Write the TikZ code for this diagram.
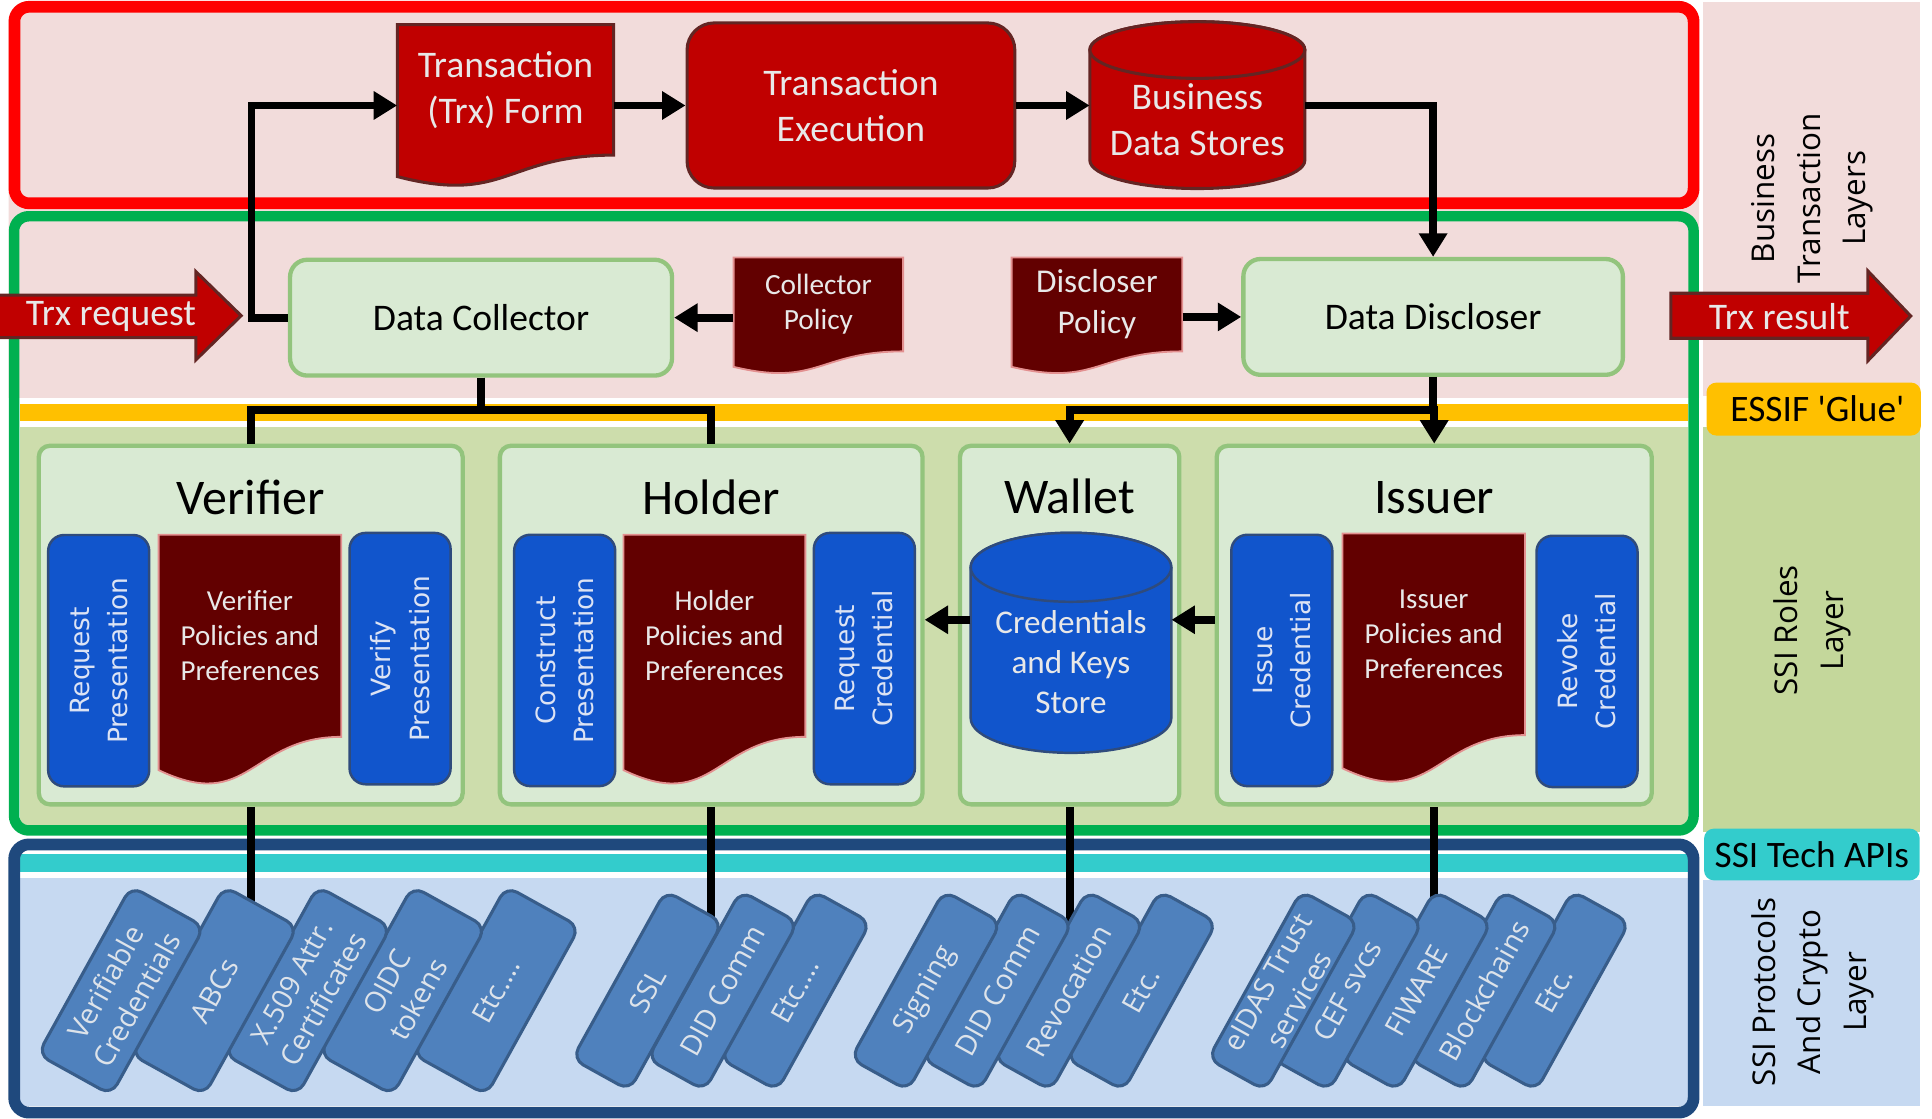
\documentclass[tikz,border=0pt]{standalone}
\usepackage{fontspec}
\setmainfont{Carlito}
\newfontfamily\osans{Open Sans}
\newfontfamily\dvsans{DejaVu Sans}
\usetikzlibrary{arrows.meta,calc}
\pgfdeclarelayer{bg}
\pgfdeclarelayer{lines}
\pgfdeclarelayer{mid}
\pgfsetlayers{bg,lines,mid,main}

\definecolor{pinkbg}{HTML}{F2DCDB}
\definecolor{redframe}{HTML}{FF0000}
\definecolor{greenframe}{HTML}{00B050}
\definecolor{navyframe}{HTML}{1F497D}
\definecolor{yellowband}{HTML}{FFC000}
\definecolor{olivein}{HTML}{CDDDAC}
\definecolor{olivestrip}{HTML}{C4D79B}
\definecolor{tealband}{HTML}{33CCCC}
\definecolor{paleblue}{HTML}{C6D9F1}
\definecolor{rolefill}{HTML}{D9EAD3}
\definecolor{roleedge}{HTML}{93C47D}
\definecolor{trxred}{HTML}{C00000}
\definecolor{trxedge}{HTML}{632523}
\definecolor{maroonfill}{HTML}{620000}
\definecolor{maroonedge}{HTML}{E39090}
\definecolor{boxblue}{HTML}{1155CC}
\definecolor{boxedge}{HTML}{2F4B7C}
\definecolor{cardfill}{HTML}{4F81BD}
\definecolor{cardedge}{HTML}{385D8A}
\definecolor{cardtext}{HTML}{DDE3EA}
\definecolor{lighttext}{HTML}{E8E8E8}
\definecolor{bluetext}{HTML}{DCE3F4}

\tikzset{
  conn/.style={line width=6.3pt, black},
  arr/.style={conn, -{Triangle[length=19pt,width=22pt]}},
  redshape/.style={fill=trxred, draw=trxedge, line width=2.5pt},
  maroonshape/.style={fill=maroonfill, draw=maroonedge, line width=1.5pt},
  blueshape/.style={fill=boxblue, draw=boxedge, line width=2pt},
  redtext/.style={text=lighttext, align=center, inner sep=0pt, font=\fontsize{30.5}{37}\selectfont},
  doctext/.style={text=lighttext, align=center, inner sep=0pt},
  greenbox/.style={rectangle, rounded corners=14pt, fill=rolefill, draw=roleedge, line width=3.5pt, font=\fontsize{30.5}{35}\selectfont},
  rolebox/.style={rectangle, rounded corners=9pt, fill=rolefill, draw=roleedge, line width=3.5pt, minimum height=291pt},
  roletitle/.style={inner sep=0pt, font=\fontsize{40.5}{42}\selectfont},
  bluebox/.style={rectangle, rounded corners=13pt, fill=boxblue, draw=boxedge, line width=2pt, rotate=90, minimum width=204pt, minimum height=82pt, text=bluetext, align=center, inner sep=0pt, font=\dvsans\fontsize{21.5}{31}\selectfont},
  protocard/.style={rectangle, rounded corners=10pt, fill=cardfill, draw=cardedge, line width=2.5pt, rotate=61, minimum width=156pt, text=cardtext, align=center, inner sep=0pt, font=\osans\fontsize{23}{29}\selectfont},
  widecard/.style={minimum height=68pt},
  narrowcard/.style={minimum height=53pt},
  sidelabel/.style={rotate=90, align=center, inner sep=0pt, font=\osans\fontsize{25.5}{37}\selectfont},
  sidetag/.style={rectangle, rounded corners=8pt, inner sep=0pt, font=\fontsize{30.3}{32}\selectfont}
}

\newcommand\docpath[5]{%
  \filldraw[#5] (#1,#2) -- ({#1+#3},#2) -- ({#1+#3},{#2+0.802*#4})
    .. controls ({#1+0.5*#3},{#2+0.802*#4}) and ({#1+0.5*#3},{#2+1.107*#4}) .. (#1,{#2+0.934*#4}) -- cycle;}
\newcommand\cylpath[6]{%
  \filldraw[#6] ({#1-#4},{#2+#5}) -- ({#1-#4},{#3-#5})
    arc[start angle=180, end angle=0, x radius=#4, y radius=#5] -- ({#1+#4},{#2+#5})
    arc[start angle=0, end angle=-180, x radius=#4, y radius=#5] -- cycle;
  \draw[#6] (#1,{#2+#5}) ellipse[x radius=#4, y radius=#5];}

\begin{document}
\begin{tikzpicture}[x=1pt,y=-1pt]
\useasboundingbox (0,0) rectangle (1568,908);

% ---------- backgrounds and frames ----------
\begin{pgfonlayer}{bg}
  \fill[pinkbg] (7,323) -- (7,17) arc[start angle=180, end angle=270, radius=16] -- (1363,1)
    arc[start angle=270, end angle=360, radius=16] -- (1379,323) -- cycle;
  \fill[pinkbg] (1382.5,1.4) rectangle (1558,321.7);
  \fill[yellowband] (16,327.5) rectangle (1370,342);
  \fill[olivein] (16,346.5) rectangle (1370,670);
  \fill[olivestrip] (1382.5,346.5) rectangle (1558,675);
  \fill[tealband] (16,692.7) rectangle (1370,707.8);
  \fill[paleblue] (16,712.7) rectangle (1370,898);
  \fill[paleblue] (1382.5,714) rectangle (1558,898);
  \draw[redframe, line width=9.5pt, rounded corners=12pt] (11.7,5.5) rectangle (1374.5,165);
  \draw[greenframe, line width=8.5pt, rounded corners=12pt] (11.4,175.5) rectangle (1374.5,674);
  \draw[navyframe, line width=9.5pt, rounded corners=12pt] (11.5,685.3) rectangle (1374.5,903);
\end{pgfonlayer}

% ---------- shapes under texts ----------
\begin{pgfonlayer}{mid}
  % block arrows
  \filldraw[redshape] (-5,239.5) -- (159,239.5) -- (159,220.5) -- (195.7,256.2) -- (159,292) -- (159,274) -- (-5,274) -- cycle;
  \filldraw[redshape] (1356,238) -- (1516,238) -- (1516,220) -- (1550.7,256.5) -- (1516,292.7) -- (1516,274.5) -- (1356,274.5) -- cycle;
  % role boxes
  \node[rolebox, minimum width=344pt] (verifier) at (203.5,507.3) {};
  \node[rolebox, minimum width=343pt] (holder) at (577.2,507.3) {};
  \node[rolebox, minimum width=178pt] (wallet) at (868.1,507.3) {};
  \node[rolebox, minimum width=353pt] (issuer) at (1164,507.3) {};
  % documents
  \docpath{322.5}{20}{175.5}{132}{redshape}
  \docpath{595.4}{209}{137.6}{95}{maroonshape}
  \docpath{821}{209}{138.5}{95}{maroonshape}
  \docpath{128.7}{434}{148.3}{204.5}{maroonshape}
  \docpath{506}{434}{147.6}{204.5}{maroonshape}
  \docpath{1089.5}{433}{148.2}{204}{maroonshape}
  % cylinders
  \cylpath{971.75}{17.6}{153}{87.25}{23}{redshape}
  \cylpath{869.2}{432.4}{611}{81.4}{28}{blueshape}
\end{pgfonlayer}

% ---------- top row ----------
\node[redtext, minimum width=175.5pt, minimum height=106pt] (tf) at (410.25,73) {Transaction\\(Trx) Form};
\node[rectangle, rounded corners=22pt, fill=trxred, draw=trxedge, line width=2.5pt,
      minimum width=266pt, minimum height=134pt, redtext] (te) at (690.6,85.6) {Transaction\\Execution};
\node[redtext, minimum width=174.5pt, minimum height=112pt] (bds) at (971.75,97) {Business\\Data Stores};

% ---------- middle row ----------
\node[redtext] (trxreq) at (90,257) {Trx request};
\node[redtext] (trxres) at (1444,257) {Trx result};
\node[greenbox, minimum width=310pt, minimum height=94pt] (dc) at (390.4,257.8) {Data Collector};
\node[greenbox, minimum width=308pt, minimum height=94pt] (dd) at (1163.1,257.2) {Data Discloser};
\node[doctext, font=\fontsize{23.8}{28}\selectfont, minimum width=137.6pt, minimum height=76pt] (cpol) at (664.2,247) {Collector\\Policy};
\node[doctext, font=\fontsize{27}{33}\selectfont, minimum width=138.5pt, minimum height=76pt] (dpol) at (890.25,247) {Discloser\\Policy};

% ---------- right side labels ----------
\node[sidelabel] (lblbiz) at (1471,161) {Business\\Transaction\\Layers};
\node[sidetag, fill=yellowband, minimum width=174pt, minimum height=43pt] (essif) at (1472,332) {\hspace{6pt}ESSIF {\textquotesingle}Glue{\textquotesingle}};
\node[sidelabel] (lblroles) at (1471,511.5) {SSI Roles\\Layer};
\node[sidetag, fill=tealband, minimum width=175pt, minimum height=42pt] (techapi) at (1470.5,693.5) {SSI Tech APIs};
\node[sidelabel] (lblproto) at (1471,805) {SSI Protocols\\And Crypto\\Layer};

% ---------- SSI roles ----------
\node[roletitle] (verifierT) at (203.5,403.5) {Verifier};
\node[roletitle] (holderT) at (577.2,403.5) {Holder};
\node[roletitle] (walletT) at (868.1,402.5) {Wallet};
\node[roletitle] (issuerT) at (1164,403.5) {Issuer};

\node[bluebox] (rp) at (80.1,536.2) {Request\\Presentation};
\node[doctext, font=\fontsize{23.5}{28.5}\selectfont, minimum width=148.3pt, minimum height=164pt] (vpol) at (202.85,516) {Verifier\\Policies and\\Preferences};
\node[bluebox] (vp) at (324.7,534.5) {Verify\\Presentation};

\node[bluebox] (cpres) at (458.3,536) {Construct\\Presentation};
\node[doctext, font=\fontsize{23.5}{28.5}\selectfont, minimum width=147.6pt, minimum height=164pt] (hpol) at (579.8,516) {Holder\\Policies and\\Preferences};
\node[bluebox] (rcred) at (701.5,534.5) {Request\\Credential};

\node[doctext, font=\fontsize{26.9}{32.5}\selectfont, minimum width=162.8pt, minimum height=100pt] (wst) at (869.2,537.5) {Credentials\\and Keys\\Store};

\node[bluebox] (icred) at (1040.3,536) {Issue\\Credential};
\node[doctext, font=\fontsize{23.5}{28.5}\selectfont, minimum width=148.2pt, minimum height=163.6pt] (ipol) at (1163.6,514.8) {Issuer\\Policies and\\Preferences};
\node[bluebox] (rvcred) at (1288,536.8) {Revoke\\Credential};

% ---------- connectors ----------
\draw[arr] (dc.west) -- ++(-29.5,0) |- (te.west -| tf.west);
\draw[arr] (tf.east |- te.west) -- (te.west);
\draw[arr] (te.east) -- (te.east -| bds.west);
\draw[arr] (bds.east |- te.east) -| (dd.north);
\draw[arr] (cpol.west |- dc.east) -- (dc.east);
\draw[arr] (dpol.east |- dd.west) -- (dd.west);
\draw[conn] (dc.south) -- ++(0,26) -| (verifier.north);
\draw[conn] (dc.south) -- ++(0,26) -| (holder.north);
\draw[arr] (dd.south) -- ++(0,27) -| (wallet.north);
\draw[arr] (dd.south) -- ++(0,27) -| (issuer.north);
\coordinate (wa) at ([yshift=34.5pt]wst.west);
\draw[arr] (wa) -- (wa -| holder.east);
\draw[arr] (wa -| issuer.west) -- (wa -| wst.east);

% ---------- protocol cards ----------
\node[protocard, widecard] (c15) at (402.8,804) {Etc.…};
\node[protocard, widecard] (c14) at (326.8,804) {OIDC\\tokens};
\node[protocard, widecard] (c13) at (249.7,804) {X.509 Attr.\\Certificates};
\node[protocard, widecard] (c12) at (174,804) {ABCs};
\node[protocard, widecard] (c11) at (98.3,804) {Verifiable\\Credentials};

\node[protocard, narrowcard] (c23) at (645.5,804) {Etc.…};
\node[protocard, narrowcard] (c22) at (586.5,804) {DID Comm};
\node[protocard, narrowcard] (c21) at (525.5,804) {SSL};

\node[protocard, narrowcard] (c34) at (926.5,804) {Etc.};
\node[protocard, narrowcard] (c33) at (867.5,804) {Revocation};
\node[protocard, narrowcard] (c32) at (809.5,804) {DID Comm};
\node[protocard, narrowcard] (c31) at (751.5,804) {Signing};

\node[protocard, narrowcard] (c45) at (1261.5,804) {Etc.};
\node[protocard, narrowcard] (c44) at (1204.5,804) {Blockchains};
\node[protocard, narrowcard] (c43) at (1149.5,804) {FIWARE};
\node[protocard, narrowcard] (c42) at (1093.5,804) {CEF svcs};
\node[protocard, narrowcard] (c41) at (1041.5,804) {eIDAS Trust\\services};

\begin{pgfonlayer}{lines}
  \draw[conn] (verifier.south) -- (verifier.south |- c12.center);
  \draw[conn] (holder.south) -- (holder.south |- c22.center);
  \draw[conn] (wallet.south) -- (wallet.south |- c33.center);
  \draw[conn] (issuer.south) -- (issuer.south |- c43.center);
\end{pgfonlayer}
\end{tikzpicture}
\end{document}
